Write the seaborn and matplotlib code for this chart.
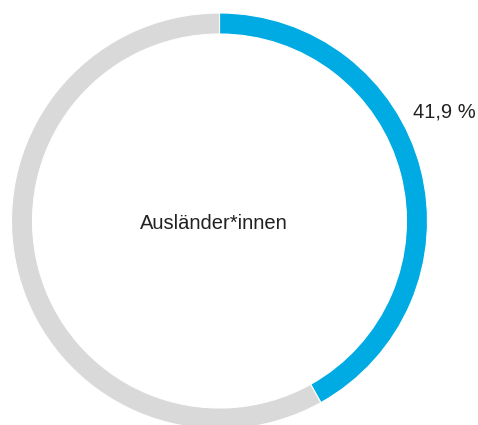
import matplotlib
matplotlib.use("Agg")
import matplotlib.pyplot as plt
import seaborn as sns

sns.set_theme(style="white")
plt.rcParams["font.family"] = ["Liberation Sans", "DejaVu Sans"]

# Share of foreign nationals (percent) and the remainder
categories = ["Ausländer*innen", "Übrige"]
shares = [41.9, 58.1]
center_label = "Ausländer*innen"
value_label = "41,9 %"
colors = ["#00ABE3", "#D9D9D9"]

W, H = 478, 425
fig = plt.figure(figsize=(W / 100, H / 100), dpi=100)
ax = fig.add_axes([0, 0, 1, 1])

cx, cy = 219.5, H - 221
outer_r, ring_w = 208, 21

ax.pie(
    shares,
    colors=colors,
    startangle=90,
    counterclock=False,
    center=(cx, cy),
    radius=outer_r,
    wedgeprops=dict(width=ring_w, edgecolor="white", linewidth=0.8),
    frame=True,
)

ax.text(214, H - 223, center_label, ha="center", va="center",
        fontsize=14.5, color="#222222")
ax.text(413, H - 112, value_label, ha="left", va="center",
        fontsize=14.5, color="#222222")

ax.set_xlim(0, W)
ax.set_ylim(0, H)
ax.set_aspect("equal")
ax.axis("off")

fig.savefig("out.png", dpi=100)
